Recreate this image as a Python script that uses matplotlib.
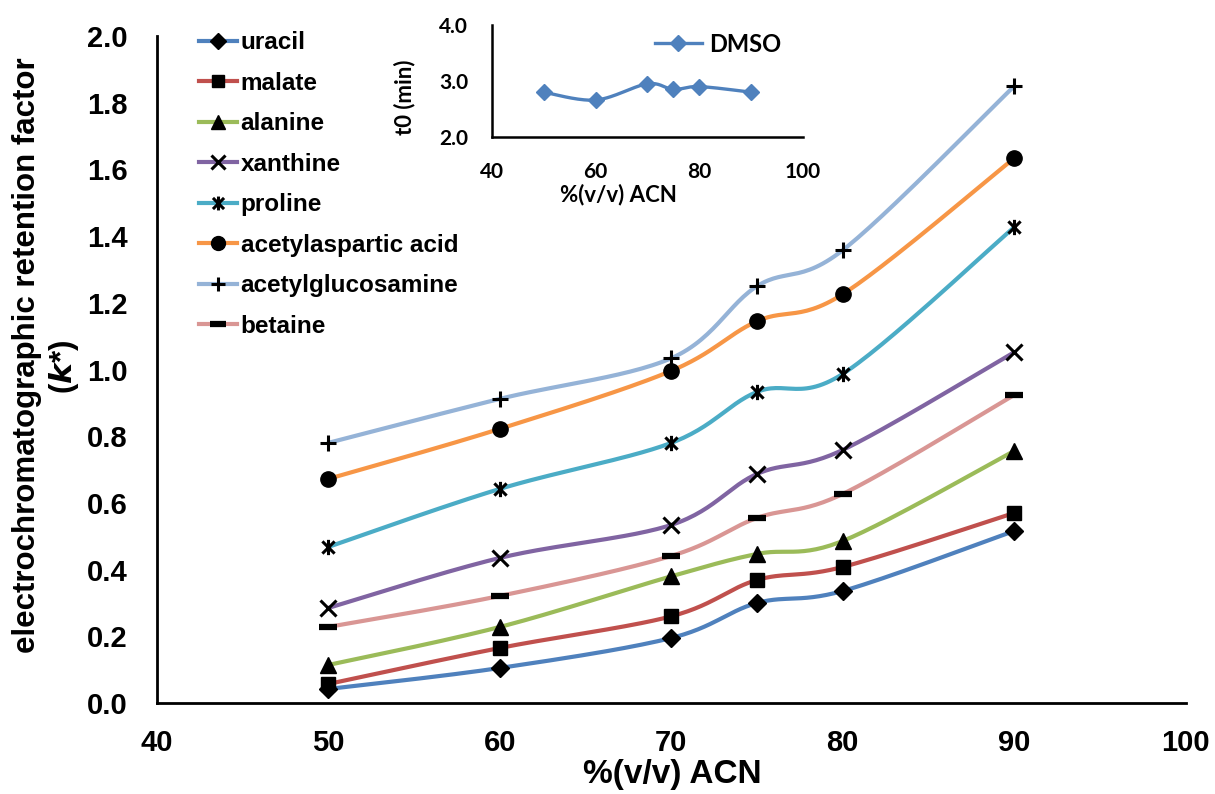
import numpy as np
import matplotlib
matplotlib.use("Agg")
import matplotlib.pyplot as plt
from matplotlib.path import Path

# ---------------- data ----------------
acn = [50, 60, 70, 75, 80, 90]
uracil = [0.042, 0.105, 0.195, 0.300, 0.336, 0.516]
malate = [0.057, 0.165, 0.260, 0.369, 0.408, 0.570]
alanine = [0.114, 0.228, 0.380, 0.447, 0.486, 0.756]
xanthine = [0.285, 0.435, 0.534, 0.687, 0.759, 1.052]
proline = [0.468, 0.642, 0.780, 0.933, 0.987, 1.427]
acetylaspartic = [0.672, 0.822, 0.996, 1.145, 1.226, 1.634]
acetylglucosamine = [0.780, 0.912, 1.034, 1.250, 1.358, 1.850]
betaine = [0.228, 0.321, 0.441, 0.555, 0.627, 0.924]

dmso_t0 = [2.80, 2.66, 2.95, 2.85, 2.90, 2.80]

series_names = ["uracil", "malate", "alanine", "xanthine", "proline",
                "acetylaspartic acid", "acetylglucosamine", "betaine"]
series_vals = [uracil, malate, alanine, xanthine, proline,
               acetylaspartic, acetylglucosamine, betaine]
colors = ["#4F81BD", "#C0504D", "#9BBB59", "#8064A2", "#4BACC6",
          "#F79646", "#95B3D7", "#D99694"]

# star marker (x with vertical bar), like Excel
star = Path([(-1, -1), (1, 1), (-1, 1), (1, -1), (0, -1.25), (0, 1.25)],
            [Path.MOVETO, Path.LINETO, Path.MOVETO, Path.LINETO, Path.MOVETO, Path.LINETO])
markers = ["D", "s", "^", "x", star, "o", "+", "_"]
msizes = [9, 10, 11, 11, 11, 11, 11, 13]
mews = [1, 1, 1, 2.2, 2.2, 1, 2.2, 4.5]


def smooth(x, y, n=30):
    P = np.column_stack([x, y]).astype(float)
    pts = []
    m = len(P)
    for i in range(m - 1):
        p0 = P[i - 1] if i > 0 else P[i]
        p1 = P[i]
        p2 = P[i + 1]
        p3 = P[i + 2] if i + 2 < m else P[i + 1]
        c1 = p1 + (p2 - p0) / 6.0
        c2 = p2 - (p3 - p1) / 6.0
        t = np.linspace(0, 1, n)[:, None]
        seg = ((1 - t) ** 3) * p1 + 3 * ((1 - t) ** 2) * t * c1 + 3 * (1 - t) * t ** 2 * c2 + t ** 3 * p2
        if i > 0:
            seg = seg[1:]
        pts.append(seg)
    pts = np.vstack(pts)
    return pts[:, 0], pts[:, 1]


fig = plt.figure(figsize=(12.15, 7.94), dpi=100)
ax = fig.add_axes([0.129, 0.1146, 0.847, 0.840])

bold = dict(family="Liberation Sans", weight="bold")

handles = []
for name, vals, c, mk, ms, mew in zip(series_names, series_vals, colors, markers, msizes, mews):
    sx, sy = smooth(acn, vals)
    ax.plot(sx, sy, color=c, lw=3, solid_capstyle="round", zorder=2)
    ax.plot(acn, vals, linestyle="none", marker=mk, markersize=ms, color="black",
            markeredgewidth=mew, zorder=3)
    h, = ax.plot([], [], color=c, lw=3, marker=mk, markersize=ms - 1, markerfacecolor="black",
                 markeredgecolor="black", markeredgewidth=mew)
    handles.append(h)

ax.set_xlim(40, 100)
ax.set_ylim(0, 2.0)
ax.set_xticks([40, 50, 60, 70, 80, 90, 100])
ax.set_yticks(np.arange(0, 2.01, 0.2))
ax.set_yticklabels([f"{v:.1f}" for v in np.arange(0, 2.01, 0.2)])
ax.tick_params(length=0)
ax.tick_params(axis="x", pad=19)
ax.tick_params(axis="y", pad=21)
for lab in ax.get_xticklabels() + ax.get_yticklabels():
    lab.set_fontfamily("Liberation Sans")
    lab.set_fontweight("bold")
    lab.set_fontsize(21)
for s in ["top", "right"]:
    ax.spines[s].set_visible(False)
for s in ["left", "bottom"]:
    ax.spines[s].set_linewidth(2)

fig.text(0.553, 0.024, "%(v/v) ACN", ha="center", va="center", fontsize=24, **bold)
fig.text(0.022, 0.553, "electrochromatographic retention factor", rotation=90,
         ha="center", va="center", fontsize=22.5, **bold)
ax.text(-0.0904, 0.504, r"($\mathbfit{k}$*)", rotation=90, transform=ax.transAxes,
        ha="center", va="center", fontsize=22.5, **bold)

leg = ax.legend(handles, series_names, loc="upper left", bbox_to_anchor=(0.032, 1.022),
                frameon=False, prop=dict(family="Liberation Sans", weight="bold", size=17.5),
                handlelength=1.55, handletextpad=0.15, labelspacing=0.72, borderaxespad=0)

# ---------------- inset ----------------
ins = fig.add_axes([0.4049, 0.8275, 0.2560, 0.141])
sx, sy = smooth(acn, dmso_t0)
ins.plot(sx, sy, color="#4F81BD", lw=2.4, zorder=2)
ins.plot(acn, dmso_t0, linestyle="none", marker="D", markersize=8, color="#4F81BD", zorder=3)
hd, = ins.plot([], [], color="#4F81BD", lw=2.4, marker="D", markersize=8)
ins.set_xlim(40, 100)
ins.set_ylim(2.0, 4.0)
ins.set_xticks([40, 60, 80, 100])
ins.set_yticks([2.0, 3.0, 4.0])
ins.set_yticklabels(["2.0", "3.0", "4.0"])
ins.tick_params(length=0)
ins.tick_params(axis="x", pad=18)
ins.tick_params(axis="y", pad=17)
for lab in ins.get_xticklabels() + ins.get_yticklabels():
    lab.set_fontfamily("Lato")
    lab.set_fontweight("bold")
    lab.set_fontsize(15)
for s in ["top", "right"]:
    ins.spines[s].set_visible(False)
for s in ["left", "bottom"]:
    ins.spines[s].set_linewidth(1.8)
fig.text(0.5086, 0.7544, "%(v/v) ACN", ha="center", va="center", fontsize=16,
         fontfamily="Lato", fontweight="bold")
fig.text(0.333, 0.878, "t0 (min)", rotation=90, ha="center", va="center", fontsize=16,
         fontfamily="Lato", fontweight="bold")
ins.patch.set_alpha(0)
ins.legend([hd], ["DMSO"], loc="center right", bbox_to_anchor=(0.93, 0.83), frameon=False,
           prop=dict(family="Lato", weight="bold", size=17), handlelength=2.0,
           handletextpad=0.3, borderaxespad=0, borderpad=0)

fig.savefig("out.png", dpi=100)
